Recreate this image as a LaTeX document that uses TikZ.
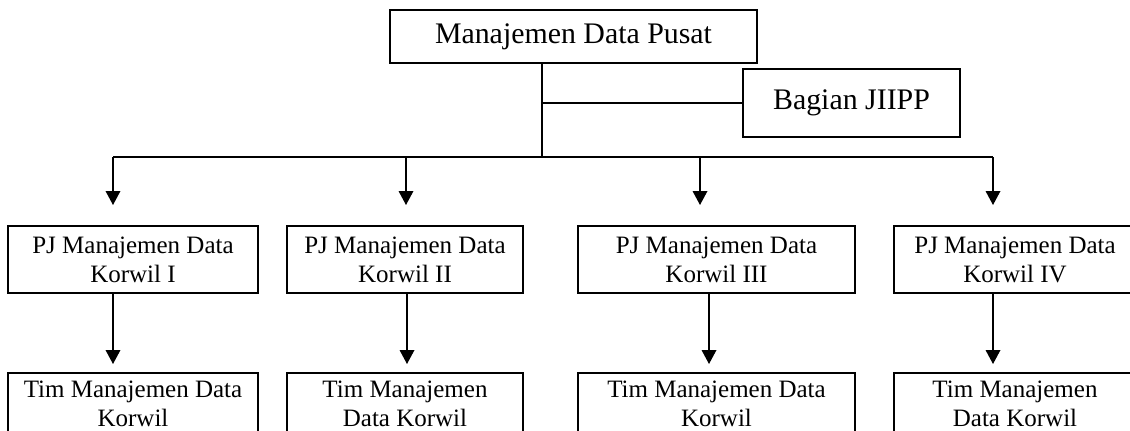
\documentclass[tikz,border=0pt]{standalone}
\usepackage{fontspec}
\setmainfont{Liberation Serif}
\usetikzlibrary{arrows.meta}
\begin{document}
\begin{tikzpicture}[x=0.75pt,y=-0.75pt,
  box/.style={draw,line width=1.5pt,inner sep=0pt,align=center,
    font=\fontsize{18.75pt}{21.75pt}\selectfont},
  bigbox/.style={draw,line width=1.5pt,inner sep=0pt,align=center,
    font=\fontsize{22.4pt}{26pt}\selectfont},
  conn/.style={line width=1pt},
  arr/.style={line width=1pt,-{Triangle[width=11pt,length=10.5pt]}}]
\useasboundingbox (0,0) rectangle (1130,430);
\clip (0,0) rectangle (1130,430);
% top level
\node[bigbox,minimum width=367*0.75pt,minimum height=53*0.75pt] (top) at (573.5,36.5) {Manajemen Data Pusat};
\node[bigbox,line width=1.3pt,minimum width=217*0.75pt,minimum height=68*0.75pt] (bag) at (851.5,103) {Bagian JIIPP};
% PJ boxes
\node[box,minimum width=250*0.75pt,minimum height=67*0.75pt] (pj1) at (133,259.5) {PJ Manajemen Data\\Korwil I};
\node[box,minimum width=236*0.75pt,minimum height=67*0.75pt] (pj2) at (405,259.5) {PJ Manajemen Data\\Korwil II};
\node[box,minimum width=277*0.75pt,minimum height=67*0.75pt] (pj3) at (716.5,259.5) {PJ Manajemen Data\\Korwil III};
\node[box,minimum width=242*0.75pt,minimum height=67*0.75pt] (pj4) at (1015,259.5) {PJ Manajemen Data\\Korwil IV};
% Tim boxes (cut by the lower edge, as in the reference)
\node[box,minimum width=250*0.75pt,minimum height=62*0.75pt] (t1) at (133,404) {Tim Manajemen Data\\Korwil};
\node[box,minimum width=236*0.75pt,minimum height=62*0.75pt] (t2) at (405,404) {Tim Manajemen\\Data Korwil};
\node[box,minimum width=277*0.75pt,minimum height=62*0.75pt] (t3) at (716.5,404) {Tim Manajemen Data\\Korwil};
\node[box,minimum width=242*0.75pt,minimum height=62*0.75pt] (t4) at (1015,404) {Tim Manajemen\\Data Korwil};
% bus coordinates
\coordinate (j) at (542,157);
\coordinate (b1) at (113,157);
\coordinate (b2) at (406,157);
\coordinate (b3) at (700,157);
\coordinate (b4) at (993,157);
% connectors
\draw[conn] (top.south -| j) -- (j);
\draw[conn] (bag.west) -- (bag.west -| j);
\draw[conn] (b1) -- (b4);
\foreach \i in {1,2,3,4} {
  \draw[arr,shorten >=20*0.75pt] (b\i) -- (pj\i.north -| b\i);
}
\coordinate (l1) at (113,0);
\coordinate (l2) at (407,0);
\coordinate (l3) at (709,0);
\coordinate (l4) at (993,0);
\foreach \i in {1,2,3,4} {
  \draw[arr,shorten >=8*0.75pt] (pj\i.south -| l\i) -- (t\i.north -| l\i);
}
\end{tikzpicture}
\end{document}
